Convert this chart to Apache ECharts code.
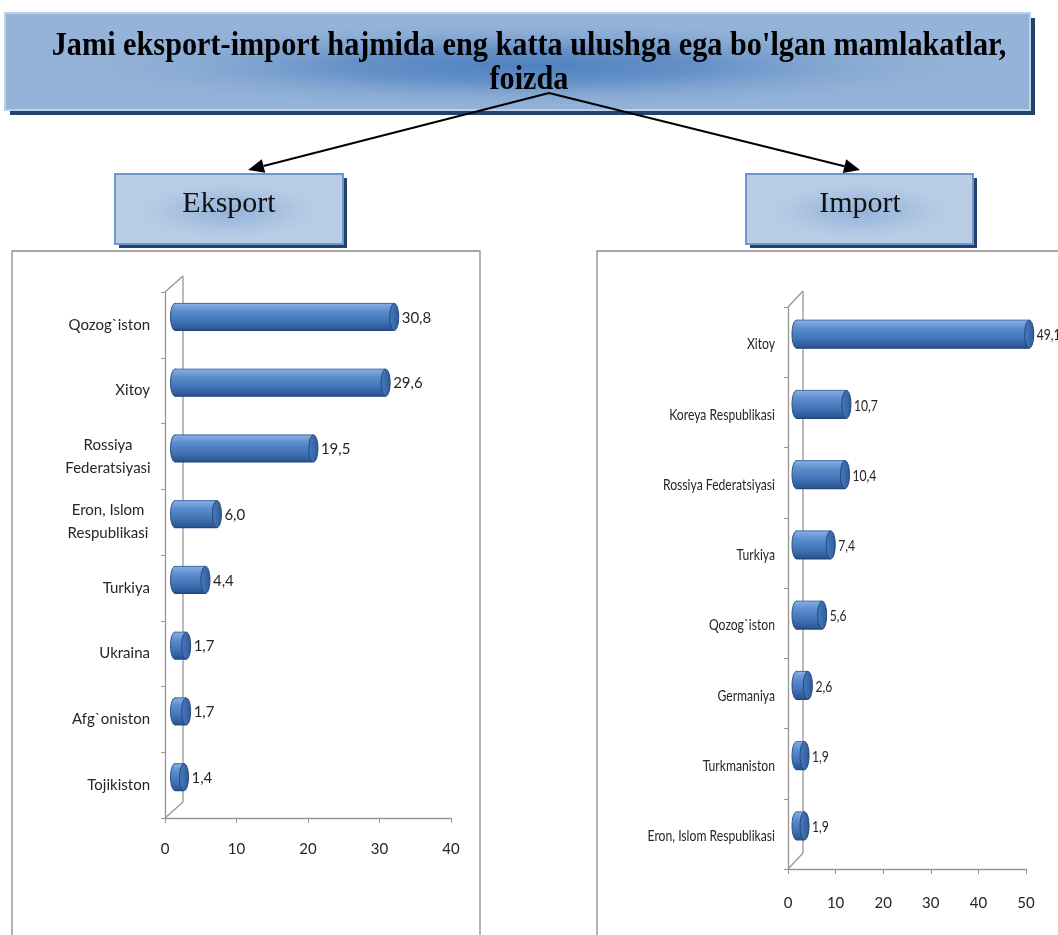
<!DOCTYPE html>
<html><head><meta charset="utf-8">
<script src="https://cdn.jsdelivr.net/npm/echarts@6/dist/echarts.min.js"></script>
<style>html,body{margin:0;padding:0;background:#fff}#c{width:1058px;height:935px}</style>
</head><body><div id="c"></div>
<script>
const titleLine1 = "Jami eksport-import hajmida eng katta ulushga ega bo'lgan mamlakatlar,";
const titleLine2 = "foizda";
const exportTitle = "Eksport";
const importTitle = "Import";
const exportCats = ["Qozog`iston","Xitoy","Rossiya Federatsiyasi","Eron, Islom Respublikasi","Turkiya","Ukraina","Afg`oniston","Tojikiston"];
const exportVals = [30.8,29.6,19.5,6.0,4.4,1.7,1.7,1.4];
const importCats = ["Xitoy","Koreya Respublikasi","Rossiya Federatsiyasi","Turkiya","Qozog`iston","Germaniya","Turkmaniston","Eron, Islom Respublikasi"];
const importVals = [49.1,10.7,10.4,7.4,5.6,2.6,1.9,1.9];
const exportTicks = [0,10,20,30,40];
const importTicks = [0,10,20,30,40,50];
const exportWrap = {"Rossiya Federatsiyasi":["Rossiya","Federatsiyasi"],"Eron, Islom Respublikasi":["Eron, Islom","Respublikasi"]};

const chart = echarts.init(document.getElementById('c'));
const G1 = {left:165, top:292, width:286, height:526, dx:18, dy:-16};
const G2 = {left:788, top:307, width:238, height:562, dx:15, dy:-16};
const axisCol = '#969696';
const leftFont = 'Lato, "Open Sans", sans-serif';
const rightFont = 'Lato, "Open Sans", sans-serif';

function cylinder(G, h, font, fs, sx, cats, labelGap) {
  return function(params, api) {
    const v = api.value(0), i = api.value(1);
    const p0 = api.coord([0, i]), p1 = api.coord([v, i]);
    const dx = G.dx/2, dy = G.dy/2;
    const rx = 4.5, ry = h/2;
    const x0 = p0[0] + dx + 1, x1 = p1[0] + dx, cy = p1[1] + dy;
    const bodyGrad = new echarts.graphic.LinearGradient(0,0,0,1,[
      {offset:0,color:'#8AB0E0'},{offset:0.3,color:'#5A8CCE'},
      {offset:0.7,color:'#3F70B3'},{offset:1,color:'#28528C'}]);
    const capGrad = new echarts.graphic.LinearGradient(0,0,1,0,[
      {offset:0,color:'#4A7CC0'},{offset:1,color:'#2C5A96'}]);
    const lbl = v.toFixed(1).replace('.', ',');
    const kids = [
      {type:'ellipse', shape:{cx:x0, cy:cy, rx:rx, ry:ry}, style:{fill:bodyGrad, stroke:'#2A4F82', lineWidth:1}},
      {type:'rect', shape:{x:x0, y:cy-ry, width:Math.max(0,x1-x0), height:h}, style:{fill:bodyGrad}},
      {type:'line', shape:{x1:x0, y1:cy-ry, x2:x1, y2:cy-ry}, style:{stroke:'#3E6BA6', lineWidth:1}},
      {type:'line', shape:{x1:x0, y1:cy+ry, x2:x1, y2:cy+ry}, style:{stroke:'#23467A', lineWidth:1.2}},
      {type:'ellipse', shape:{cx:x1, cy:cy, rx:rx, ry:ry}, style:{fill:capGrad, stroke:'#23467A', lineWidth:1}},
      {type:'text', x:x1+rx+3, y:cy+1, scaleX:sx, style:{text:lbl, x:0, y:0, verticalAlign:'middle', align:'left', font:fs+'px '+font, fill:'#262626'}}
    ];
    if (cats) {
      kids.push({type:'text', x:G.left-labelGap, y:p1[1]+2, scaleX:sx,
        style:{text:cats[params.dataIndex], x:0, y:0, align:'right', verticalAlign:'middle', font:fs+'px '+font, fill:'#262626'}});
    }
    return {type:'group', children:kids};
  };
}

function wall(G) {
  const L=G.left, T=G.top, B=G.top+G.height;
  const st = {stroke:axisCol, lineWidth:1.3};
  return [
    {type:'line', shape:{x1:L,y1:T,x2:L+G.dx,y2:T+G.dy}, style:st, silent:true},
    {type:'line', shape:{x1:L+G.dx,y1:T+G.dy,x2:L+G.dx,y2:B+G.dy}, style:st, silent:true},
    {type:'line', shape:{x1:L,y1:B,x2:L+G.dx,y2:B+G.dy}, style:st, silent:true}
  ];
}

function arrow(x1,y1,x2,y2) {
  const a = Math.atan2(y2-y1, x2-x1), len=16, w=7;
  const bx = x2 - len*Math.cos(a), by = y2 - len*Math.sin(a);
  const px = -Math.sin(a)*w, py = Math.cos(a)*w;
  return [
    {type:'line', shape:{x1:x1,y1:y1,x2:bx,y2:by}, style:{stroke:'#000', lineWidth:2}, z:10},
    {type:'polygon', shape:{points:[[x2,y2],[bx+px,by+py],[bx-px,by-py]]}, style:{fill:'#000'}, z:10}
  ];
}

function glowBox(x,y,w,h,edge,stops,border,shadow,sh,gx,gy,gr,gsx) {
  return [
    {type:'rect', shape:{x:x+sh, y:y+sh, width:w, height:h}, style:{fill:shadow}, z:1},
    {type:'rect', shape:{x:x, y:y, width:w, height:h}, style:{fill:edge}, z:2},
    {type:'circle', x:gx, y:gy, scaleX:gsx, scaleY:1, shape:{cx:0, cy:0, r:gr},
      style:{fill:new echarts.graphic.RadialGradient(0.5,0.5,0.5,stops)}, z:3},
    {type:'rect', shape:{x:x, y:y, width:w, height:h}, style:{fill:'none', stroke:border, lineWidth:2}, z:4}
  ];
}

const graphics = [];
graphics.push(...glowBox(5,13,1025,97,'#95B3D8',
  [{offset:0,color:'rgba(76,126,190,0.95)'},{offset:0.35,color:'rgba(80,130,192,0.7)'},{offset:1,color:'rgba(149,179,216,0)'}],
  '#BCD0E8','#24426C',5,525,66,47,10.6));
graphics.push({type:'text', x:529, y:46, scaleX:0.89, style:{text:titleLine1, x:0, y:0, font:'bold 34px "Liberation Serif", "Times New Roman", serif', align:'center', verticalAlign:'middle', fill:'#000'}, z:6});
graphics.push({type:'text', x:529, y:80, scaleX:0.89, style:{text:titleLine2, x:0, y:0, font:'bold 34px "Liberation Serif", "Times New Roman", serif', align:'center', verticalAlign:'middle', fill:'#000'}, z:6});
const subStops = [{offset:0,color:'rgba(148,178,216,0.95)'},{offset:0.4,color:'rgba(155,184,219,0.7)'},{offset:1,color:'rgba(185,205,230,0)'}];
graphics.push(...glowBox(115,174,228,70,'#B9CDE6',subStops,'#6E98CC','#24426C',4,229,211,33,3.3));
graphics.push({type:'text', x:229, y:204, style:{text:exportTitle, x:0, y:0, font:'30px "Liberation Serif", "Times New Roman", serif', align:'center', verticalAlign:'middle', fill:'#111'}, z:6});
graphics.push(...glowBox(746,174,227,70,'#B9CDE6',subStops,'#6E98CC','#24426C',4,860,211,33,3.3));
graphics.push({type:'text', x:860, y:204, style:{text:importTitle, x:0, y:0, font:'30px "Liberation Serif", "Times New Roman", serif', align:'center', verticalAlign:'middle', fill:'#111'}, z:6});
graphics.push(...arrow(549,93,248,170));
graphics.push(...arrow(549,93,860,170));
graphics.push({type:'rect', shape:{x:12, y:251, width:468, height:720}, style:{fill:'none', stroke:'#8A8A8A', lineWidth:1.3}, z:0});
graphics.push({type:'rect', shape:{x:597, y:251, width:480, height:720}, style:{fill:'none', stroke:'#8A8A8A', lineWidth:1.3}, z:0});
graphics.push(...wall(G1), ...wall(G2));

const option = {
  animation:false,
  graphic: graphics,
  grid:[
    {left:G1.left, top:G1.top, width:G1.width, height:G1.height},
    {left:G2.left, top:G2.top, width:G2.width, height:G2.height}
  ],
  xAxis:[
    {type:'value', gridIndex:0, min:exportTicks[0], max:exportTicks[exportTicks.length-1], interval:10,
     splitLine:{show:false}, axisLine:{show:true, lineStyle:{color:axisCol, width:1.3}},
     axisTick:{show:true, length:5, lineStyle:{color:axisCol}},
     axisLabel:{margin:24, fontSize:15, fontFamily:leftFont, color:'#262626'}},
    {type:'value', gridIndex:1, min:importTicks[0], max:importTicks[importTicks.length-1], interval:10,
     splitLine:{show:false}, axisLine:{show:true, lineStyle:{color:axisCol, width:1.3}},
     axisTick:{show:true, length:5, lineStyle:{color:axisCol}},
     axisLabel:{margin:27, fontSize:15, fontFamily:rightFont, color:'#262626'}}
  ],
  yAxis:[
    {type:'category', gridIndex:0, data:exportCats, inverse:true,
     axisLine:{show:true, lineStyle:{color:axisCol, width:1.3}},
     axisTick:{show:true, length:4, lineStyle:{color:axisCol}},
     axisLabel:{margin:15, fontSize:15, fontFamily:leftFont, color:'#262626', interval:0,
       formatter:function(n){ const w = exportWrap[n]; return w ? '{c|'+w[0]+'}\n{c|'+w[1]+'}' : n; },
       rich:{c:{width:84, align:'center', fontSize:15, fontFamily:leftFont, color:'#262626', lineHeight:23}}}},
    {type:'category', gridIndex:1, data:importCats, inverse:true,
     axisLine:{show:true, lineStyle:{color:axisCol, width:1.3}},
     axisTick:{show:true, length:4, lineStyle:{color:axisCol}},
     axisLabel:{show:false}}
  ],
  series:[
    {type:'custom', xAxisIndex:0, yAxisIndex:0, renderItem:cylinder(G1, 27, leftFont, 15, 1, null, 0),
     data:exportVals.map((v,i)=>[v,i]), encode:{x:0, y:1}, z:5},
    {type:'custom', xAxisIndex:1, yAxisIndex:1, renderItem:cylinder(G2, 28, rightFont, 16, 0.76, importCats, 13),
     data:importVals.map((v,i)=>[v,i]), encode:{x:0, y:1}, z:5, clip:false}
  ]
};
chart.setOption(option);
</script></body></html>
